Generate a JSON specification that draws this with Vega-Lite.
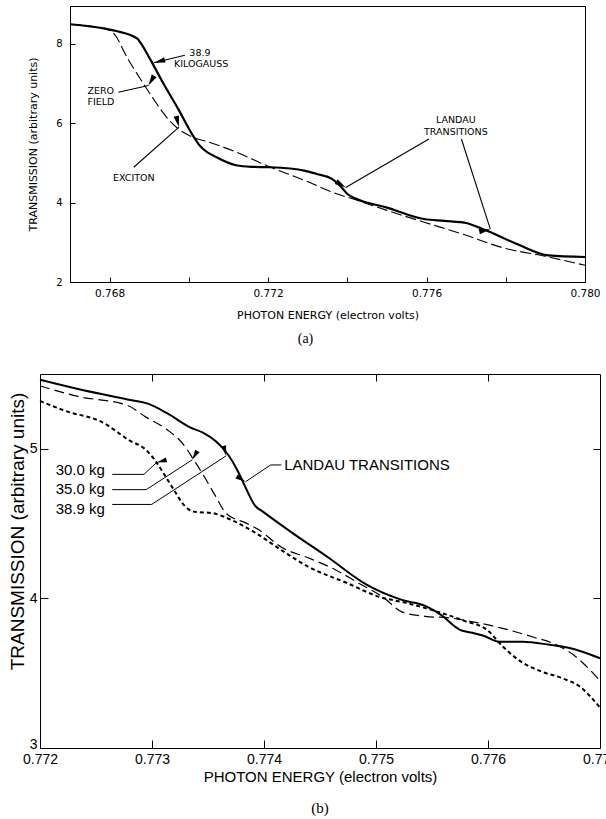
{
  "$schema": "https://vega.github.io/schema/vega-lite/v6.json",
  "background": "white",
  "padding": {"left": 7, "top": 5, "right": 5, "bottom": 5},
  "config": {
    "view": {"stroke": "black", "strokeWidth": 1},
    "axis": {"labelColor": "black", "tickColor": "black", "titleColor": "black", "domain": false, "grid": false, "titleFontWeight": "normal", "labelFlush": false, "tickWidth": 1},
    "text": {"color": "black"}
  },
  "datasets": {
    "a_curves": [
      {"field": "38.9 kilogauss", "energy": 0.767, "transmission": 8.49},
      {"field": "38.9 kilogauss", "energy": 0.76788, "transmission": 8.38},
      {"field": "38.9 kilogauss", "energy": 0.76817, "transmission": 8.32},
      {"field": "38.9 kilogauss", "energy": 0.7687, "transmission": 8.13},
      {"field": "38.9 kilogauss", "energy": 0.76877, "transmission": 8.04},
      {"field": "38.9 kilogauss", "energy": 0.76904, "transmission": 7.58},
      {"field": "38.9 kilogauss", "energy": 0.76934, "transmission": 7.03},
      {"field": "38.9 kilogauss", "energy": 0.76973, "transmission": 6.36},
      {"field": "38.9 kilogauss", "energy": 0.77012, "transmission": 5.66},
      {"field": "38.9 kilogauss", "energy": 0.77024, "transmission": 5.48},
      {"field": "38.9 kilogauss", "energy": 0.77036, "transmission": 5.35},
      {"field": "38.9 kilogauss", "energy": 0.7707, "transmission": 5.14},
      {"field": "38.9 kilogauss", "energy": 0.77119, "transmission": 4.94},
      {"field": "38.9 kilogauss", "energy": 0.77158, "transmission": 4.90},
      {"field": "38.9 kilogauss", "energy": 0.77206, "transmission": 4.89},
      {"field": "38.9 kilogauss", "energy": 0.77294, "transmission": 4.80},
      {"field": "38.9 kilogauss", "energy": 0.77323, "transmission": 4.72},
      {"field": "38.9 kilogauss", "energy": 0.77362, "transmission": 4.59},
      {"field": "38.9 kilogauss", "energy": 0.77382, "transmission": 4.42},
      {"field": "38.9 kilogauss", "energy": 0.77401, "transmission": 4.21},
      {"field": "38.9 kilogauss", "energy": 0.77421, "transmission": 4.10},
      {"field": "38.9 kilogauss", "energy": 0.77498, "transmission": 3.88},
      {"field": "38.9 kilogauss", "energy": 0.77596, "transmission": 3.58},
      {"field": "38.9 kilogauss", "energy": 0.77645, "transmission": 3.54},
      {"field": "38.9 kilogauss", "energy": 0.77703, "transmission": 3.48},
      {"field": "38.9 kilogauss", "energy": 0.77723, "transmission": 3.41},
      {"field": "38.9 kilogauss", "energy": 0.77762, "transmission": 3.25},
      {"field": "38.9 kilogauss", "energy": 0.7783, "transmission": 2.95},
      {"field": "38.9 kilogauss", "energy": 0.77908, "transmission": 2.67},
      {"field": "38.9 kilogauss", "energy": 0.780, "transmission": 2.63},
      {"field": "zero field", "energy": 0.767, "transmission": 8.49},
      {"field": "zero field", "energy": 0.76788, "transmission": 8.38},
      {"field": "zero field", "energy": 0.76812, "transmission": 8.24},
      {"field": "zero field", "energy": 0.76846, "transmission": 7.62},
      {"field": "zero field", "energy": 0.76885, "transmission": 7.00},
      {"field": "zero field", "energy": 0.76914, "transmission": 6.56},
      {"field": "zero field", "energy": 0.76943, "transmission": 6.16},
      {"field": "zero field", "energy": 0.76973, "transmission": 5.86},
      {"field": "zero field", "energy": 0.77012, "transmission": 5.64},
      {"field": "zero field", "energy": 0.77051, "transmission": 5.52},
      {"field": "zero field", "energy": 0.7711, "transmission": 5.31},
      {"field": "zero field", "energy": 0.77197, "transmission": 4.93},
      {"field": "zero field", "energy": 0.77304, "transmission": 4.51},
      {"field": "zero field", "energy": 0.77362, "transmission": 4.26},
      {"field": "zero field", "energy": 0.77421, "transmission": 4.07},
      {"field": "zero field", "energy": 0.77498, "transmission": 3.81},
      {"field": "zero field", "energy": 0.77596, "transmission": 3.50},
      {"field": "zero field", "energy": 0.77693, "transmission": 3.20},
      {"field": "zero field", "energy": 0.7779, "transmission": 2.87},
      {"field": "zero field", "energy": 0.77908, "transmission": 2.63},
      {"field": "zero field", "energy": 0.780, "transmission": 2.42}
    ],
    "a_text_center": [
      {"energy": 0.77028, "transmission": 7.77, "label": "38.9"},
      {"energy": 0.77031, "transmission": 7.50, "label": "KILOGAUSS"},
      {"energy": 0.76861, "transmission": 4.61, "label": "EXCITON"},
      {"energy": 0.77674, "transmission": 6.07, "label": "LANDAU"},
      {"energy": 0.77674, "transmission": 5.77, "label": "TRANSITIONS"}
    ],
    "a_text_left": [
      {"energy": 0.76744, "transmission": 6.82, "label": "ZERO"},
      {"energy": 0.76744, "transmission": 6.53, "label": "FIELD"}
    ],
    "a_arrows": [
      {"arrow": 1, "energy": 0.7699, "transmission": 7.71, "energy2": 0.76912, "transmission2": 7.52},
      {"arrow": 2, "energy": 0.76822, "transmission": 6.78, "energy2": 0.76898, "transmission2": 6.95},
      {"arrow": 3, "energy": 0.76861, "transmission": 4.89, "energy2": 0.76975, "transmission2": 5.90},
      {"arrow": 4, "energy": 0.77606, "transmission": 5.60, "energy2": 0.77396, "transmission2": 4.38},
      {"arrow": 5, "energy": 0.77688, "transmission": 5.60, "energy2": 0.77761, "transmission2": 3.33}
    ],
    "b_curves": [
      {"field": "38.9 kg", "energy": 0.772, "transmission": 5.462},
      {"field": "38.9 kg", "energy": 0.77234, "transmission": 5.40},
      {"field": "38.9 kg", "energy": 0.77278, "transmission": 5.33},
      {"field": "38.9 kg", "energy": 0.77297, "transmission": 5.30},
      {"field": "38.9 kg", "energy": 0.77313, "transmission": 5.24},
      {"field": "38.9 kg", "energy": 0.77335, "transmission": 5.14},
      {"field": "38.9 kg", "energy": 0.77345, "transmission": 5.11},
      {"field": "38.9 kg", "energy": 0.77357, "transmission": 5.05},
      {"field": "38.9 kg", "energy": 0.77368, "transmission": 4.96},
      {"field": "38.9 kg", "energy": 0.77376, "transmission": 4.86},
      {"field": "38.9 kg", "energy": 0.77383, "transmission": 4.75},
      {"field": "38.9 kg", "energy": 0.77392, "transmission": 4.62},
      {"field": "38.9 kg", "energy": 0.77399, "transmission": 4.58},
      {"field": "38.9 kg", "energy": 0.77423, "transmission": 4.45},
      {"field": "38.9 kg", "energy": 0.77458, "transmission": 4.27},
      {"field": "38.9 kg", "energy": 0.77492, "transmission": 4.09},
      {"field": "38.9 kg", "energy": 0.77523, "transmission": 3.99},
      {"field": "38.9 kg", "energy": 0.77544, "transmission": 3.95},
      {"field": "38.9 kg", "energy": 0.77558, "transmission": 3.89},
      {"field": "38.9 kg", "energy": 0.77575, "transmission": 3.79},
      {"field": "38.9 kg", "energy": 0.77586, "transmission": 3.77},
      {"field": "38.9 kg", "energy": 0.77596, "transmission": 3.75},
      {"field": "38.9 kg", "energy": 0.7761, "transmission": 3.71},
      {"field": "38.9 kg", "energy": 0.77631, "transmission": 3.71},
      {"field": "38.9 kg", "energy": 0.77655, "transmission": 3.69},
      {"field": "38.9 kg", "energy": 0.77672, "transmission": 3.67},
      {"field": "38.9 kg", "energy": 0.777, "transmission": 3.60},
      {"field": "35.0 kg", "energy": 0.772, "transmission": 5.42},
      {"field": "35.0 kg", "energy": 0.77234, "transmission": 5.35},
      {"field": "35.0 kg", "energy": 0.77278, "transmission": 5.29},
      {"field": "35.0 kg", "energy": 0.77295, "transmission": 5.21},
      {"field": "35.0 kg", "energy": 0.77313, "transmission": 5.13},
      {"field": "35.0 kg", "energy": 0.77328, "transmission": 5.03},
      {"field": "35.0 kg", "energy": 0.77337, "transmission": 4.93},
      {"field": "35.0 kg", "energy": 0.77347, "transmission": 4.81},
      {"field": "35.0 kg", "energy": 0.77357, "transmission": 4.68},
      {"field": "35.0 kg", "energy": 0.77366, "transmission": 4.57},
      {"field": "35.0 kg", "energy": 0.77385, "transmission": 4.50},
      {"field": "35.0 kg", "energy": 0.77395, "transmission": 4.46},
      {"field": "35.0 kg", "energy": 0.77416, "transmission": 4.34},
      {"field": "35.0 kg", "energy": 0.7744, "transmission": 4.27},
      {"field": "35.0 kg", "energy": 0.77464, "transmission": 4.19},
      {"field": "35.0 kg", "energy": 0.77485, "transmission": 4.10},
      {"field": "35.0 kg", "energy": 0.77506, "transmission": 4.01},
      {"field": "35.0 kg", "energy": 0.77523, "transmission": 3.91},
      {"field": "35.0 kg", "energy": 0.77544, "transmission": 3.88},
      {"field": "35.0 kg", "energy": 0.77565, "transmission": 3.87},
      {"field": "35.0 kg", "energy": 0.77589, "transmission": 3.84},
      {"field": "35.0 kg", "energy": 0.77613, "transmission": 3.80},
      {"field": "35.0 kg", "energy": 0.77641, "transmission": 3.74},
      {"field": "35.0 kg", "energy": 0.77658, "transmission": 3.70},
      {"field": "35.0 kg", "energy": 0.77675, "transmission": 3.63},
      {"field": "35.0 kg", "energy": 0.777, "transmission": 3.45},
      {"field": "30.0 kg", "energy": 0.772, "transmission": 5.32},
      {"field": "30.0 kg", "energy": 0.77224, "transmission": 5.25},
      {"field": "30.0 kg", "energy": 0.77255, "transmission": 5.18},
      {"field": "30.0 kg", "energy": 0.77279, "transmission": 5.06},
      {"field": "30.0 kg", "energy": 0.77295, "transmission": 4.99},
      {"field": "30.0 kg", "energy": 0.77303, "transmission": 4.92},
      {"field": "30.0 kg", "energy": 0.7731, "transmission": 4.84},
      {"field": "30.0 kg", "energy": 0.7732, "transmission": 4.72},
      {"field": "30.0 kg", "energy": 0.77329, "transmission": 4.62},
      {"field": "30.0 kg", "energy": 0.77337, "transmission": 4.58},
      {"field": "30.0 kg", "energy": 0.77354, "transmission": 4.57},
      {"field": "30.0 kg", "energy": 0.77372, "transmission": 4.52},
      {"field": "30.0 kg", "energy": 0.77392, "transmission": 4.44},
      {"field": "30.0 kg", "energy": 0.77416, "transmission": 4.32},
      {"field": "30.0 kg", "energy": 0.7744, "transmission": 4.21},
      {"field": "30.0 kg", "energy": 0.77475, "transmission": 4.10},
      {"field": "30.0 kg", "energy": 0.77503, "transmission": 4.01},
      {"field": "30.0 kg", "energy": 0.77527, "transmission": 3.97},
      {"field": "30.0 kg", "energy": 0.77551, "transmission": 3.92},
      {"field": "30.0 kg", "energy": 0.77579, "transmission": 3.85},
      {"field": "30.0 kg", "energy": 0.77599, "transmission": 3.79},
      {"field": "30.0 kg", "energy": 0.77613, "transmission": 3.68},
      {"field": "30.0 kg", "energy": 0.77627, "transmission": 3.59},
      {"field": "30.0 kg", "energy": 0.77648, "transmission": 3.51},
      {"field": "30.0 kg", "energy": 0.77665, "transmission": 3.47},
      {"field": "30.0 kg", "energy": 0.77682, "transmission": 3.41},
      {"field": "30.0 kg", "energy": 0.777, "transmission": 3.27}
    ],
    "b_text": [
      {"energy": 0.77214, "transmission": 4.86, "label": "30.0 kg"},
      {"energy": 0.77214, "transmission": 4.73, "label": "35.0 kg"},
      {"energy": 0.77214, "transmission": 4.60, "label": "38.9 kg"},
      {"energy": 0.77418, "transmission": 4.89, "label": "LANDAU TRANSITIONS"}
    ],
    "b_tails": [
      {"energy": 0.772645, "transmission": 4.829, "energy2": 0.772928, "transmission2": 4.829},
      {"energy": 0.772645, "transmission": 4.727, "energy2": 0.772948, "transmission2": 4.727},
      {"energy": 0.772645, "transmission": 4.628, "energy2": 0.772997, "transmission2": 4.628},
      {"energy": 0.774155, "transmission": 4.892, "energy2": 0.774059, "transmission2": 4.892}
    ],
    "b_arrows": [
      {"arrow": 1, "energy": 0.772928, "transmission": 4.829, "energy2": 0.773041, "transmission2": 4.908},
      {"arrow": 2, "energy": 0.772948, "transmission": 4.727, "energy2": 0.773359, "transmission2": 4.926},
      {"arrow": 3, "energy": 0.772997, "transmission": 4.628, "energy2": 0.773662, "transmission2": 4.953},
      {"arrow": 4, "energy": 0.774059, "transmission": 4.892, "energy2": 0.773834, "transmission2": 4.779}
    ]
  },
  "bounds": "full",
  "spacing": 26,
  "vconcat": [
    {
      "bounds": "flush",
      "spacing": 0,
      "hconcat": [
        {
          "width": 30,
          "height": 276,
          "view": {"stroke": null},
          "data": {"values": []},
          "mark": "point",
          "encoding": {}
        },
        {
          "width": 515,
          "height": 276,
          "title": {"text": "(a)", "orient": "bottom", "font": "Liberation Serif", "fontSize": 14, "fontWeight": "normal", "color": "black", "offset": 12, "dx": -22},
          "layer": [
            {
              "data": {"name": "a_curves"},
              "transform": [{"filter": "datum.field == 'zero field'"}],
              "mark": {"type": "line", "color": "black", "strokeWidth": 1.1, "strokeDash": [11, 4], "interpolate": "monotone"},
              "encoding": {
                "x": {"field": "energy", "type": "quantitative",
                  "scale": {"domain": [0.767, 0.780], "nice": false, "zero": false},
                  "axis": {"values": [0.768, 0.770, 0.772, 0.774, 0.776, 0.778, 0.780], "tickSize": -5,
                    "labelExpr": "round(datum.value * 1000) % 4 == 0 ? format(datum.value, '.3f') : ''",
                    "title": "PHOTON ENERGY (electron volts)", "labelFont": "DejaVu Sans", "labelFontSize": 10.5,
                    "titleFont": "DejaVu Sans", "titleFontSize": 11, "labelPadding": 11.5, "titlePadding": 10}},
                "y": {"field": "transmission", "type": "quantitative",
                  "scale": {"domain": [2, 8.95], "nice": false, "zero": false},
                  "axis": {"values": [2, 4, 6, 8], "tickSize": -5, "title": "TRANSMISSION (arbitrary units)",
                    "labelFont": "DejaVu Sans", "labelFontSize": 10, "titleFont": "DejaVu Sans", "titleFontSize": 11,
                    "labelPadding": 13, "titlePadding": 17}}
              }
            },
            {
              "data": {"name": "a_curves"},
              "transform": [{"filter": "datum.field == '38.9 kilogauss'"}],
              "mark": {"type": "line", "color": "black", "strokeWidth": 2.2, "interpolate": "monotone"},
              "encoding": {
                "x": {"field": "energy", "type": "quantitative"},
                "y": {"field": "transmission", "type": "quantitative"}
              }
            },
            {
              "data": {"name": "a_text_center"},
              "mark": {"type": "text", "font": "DejaVu Sans", "fontSize": 9.5, "align": "center", "baseline": "middle"},
              "encoding": {
                "x": {"field": "energy", "type": "quantitative"},
                "y": {"field": "transmission", "type": "quantitative"},
                "text": {"field": "label"}
              }
            },
            {
              "data": {"name": "a_text_left"},
              "mark": {"type": "text", "font": "DejaVu Sans", "fontSize": 9.5, "align": "left", "baseline": "middle"},
              "encoding": {
                "x": {"field": "energy", "type": "quantitative"},
                "y": {"field": "transmission", "type": "quantitative"},
                "text": {"field": "label"}
              }
            },
            {
              "data": {"name": "a_arrows"},
              "mark": {"type": "rule", "color": "black", "strokeWidth": 1.1},
              "encoding": {
                "x": {"field": "energy", "type": "quantitative"},
                "y": {"field": "transmission", "type": "quantitative"},
                "x2": {"field": "energy2"},
                "y2": {"field": "transmission2"}
              }
            },
            {
              "data": {"name": "a_arrows"},
              "mark": {"type": "point", "shape": "M0,0L-0.32,1.3L0.32,1.3Z", "filled": true, "color": "black", "opacity": 1, "size": 300},
              "encoding": {
                "x": {"field": "energy2", "type": "quantitative"},
                "y": {"field": "transmission2", "type": "quantitative"},
                "angle": {"field": "arrow", "type": "quantitative", "legend": null,
                  "scale": {"domain": [1, 2, 3, 4, 5], "range": [255, 77.5, 48.5, 239.8, 162.1]}}
              }
            }
          ]
        }
      ]
    },
    {
      "width": 560,
      "height": 374,
      "title": {"text": "(b)", "orient": "bottom", "font": "Liberation Serif", "fontSize": 15, "fontWeight": "normal", "color": "black", "offset": 17},
      "resolve": {"axis": {"x": "independent", "y": "independent"}},
      "layer": [
        {
          "data": {"name": "b_curves"},
          "transform": [{"filter": "datum.field == '38.9 kg'"}],
          "mark": {"type": "line", "color": "black", "strokeWidth": 2, "interpolate": "monotone"},
          "encoding": {
            "x": {"field": "energy", "type": "quantitative",
              "scale": {"domain": [0.772, 0.777], "nice": false, "zero": false},
              "axis": {"values": [0.772, 0.773, 0.774, 0.775, 0.776, 0.777], "format": ".3f", "tickSize": -8,
                "title": "PHOTON ENERGY (electron volts)", "labelFont": "Liberation Sans", "labelFontSize": 14,
                "titleFont": "Liberation Sans", "titleFontSize": 15, "labelPadding": 12, "titlePadding": 3}},
            "y": {"field": "transmission", "type": "quantitative",
              "scale": {"domain": [3, 5.5], "nice": false, "zero": false},
              "axis": {"values": [3, 4, 5], "tickSize": -8, "title": "TRANSMISSION (arbitrary units)",
                "labelFont": "Liberation Sans", "labelFontSize": 14, "titleFont": "Liberation Sans", "titleFontSize": 19,
                "labelBaseline": {"condition": {"test": "datum.value == 3", "value": "alphabetic"}, "value": "middle"},
                "labelPadding": 11, "titlePadding": 2, "titleY": 157}}
          }
        },
        {
          "data": {"name": "b_curves"},
          "transform": [{"filter": "datum.field == '35.0 kg'"}],
          "mark": {"type": "line", "color": "black", "strokeWidth": 1.2, "strokeDash": [10, 5], "interpolate": "monotone"},
          "encoding": {
            "x": {"field": "energy", "type": "quantitative",
              "axis": {"orient": "top", "values": [0.773, 0.774, 0.775, 0.776], "tickSize": -7, "labels": false, "title": null}},
            "y": {"field": "transmission", "type": "quantitative",
              "axis": {"orient": "right", "values": [4, 5], "tickSize": -7, "labels": false, "title": null}}
          }
        },
        {
          "data": {"name": "b_curves"},
          "transform": [{"filter": "datum.field == '30.0 kg'"}],
          "mark": {"type": "line", "color": "black", "strokeWidth": 2, "strokeDash": [4, 3], "interpolate": "monotone"},
          "encoding": {
            "x": {"field": "energy", "type": "quantitative", "axis": null},
            "y": {"field": "transmission", "type": "quantitative", "axis": null}
          }
        },
        {
          "data": {"name": "b_text"},
          "mark": {"type": "text", "font": "Liberation Sans", "fontSize": 15, "align": "left", "baseline": "middle"},
          "encoding": {
            "x": {"field": "energy", "type": "quantitative", "axis": null},
            "y": {"field": "transmission", "type": "quantitative", "axis": null},
            "text": {"field": "label"}
          }
        },
        {
          "data": {"name": "b_tails"},
          "mark": {"type": "rule", "color": "black", "strokeWidth": 1},
          "encoding": {
            "x": {"field": "energy", "type": "quantitative", "axis": null},
            "y": {"field": "transmission", "type": "quantitative", "axis": null},
            "x2": {"field": "energy2"},
            "y2": {"field": "transmission2"}
          }
        },
        {
          "data": {"name": "b_arrows"},
          "mark": {"type": "rule", "color": "black", "strokeWidth": 1},
          "encoding": {
            "x": {"field": "energy", "type": "quantitative", "axis": null},
            "y": {"field": "transmission", "type": "quantitative", "axis": null},
            "x2": {"field": "energy2"},
            "y2": {"field": "transmission2"}
          }
        },
        {
          "data": {"name": "b_arrows"},
          "mark": {"type": "point", "shape": "M0,0L-0.32,1.3L0.32,1.3Z", "filled": true, "color": "black", "opacity": 1, "size": 250},
          "encoding": {
            "x": {"field": "energy2", "type": "quantitative", "axis": null},
            "y": {"field": "transmission2", "type": "quantitative", "axis": null},
            "angle": {"field": "arrow", "type": "quantitative", "legend": null,
              "scale": {"domain": [1, 2, 3, 4], "range": [47.6, 57.5, 57.2, 236.4]}}
          }
        }
      ]
    }
  ]
}
